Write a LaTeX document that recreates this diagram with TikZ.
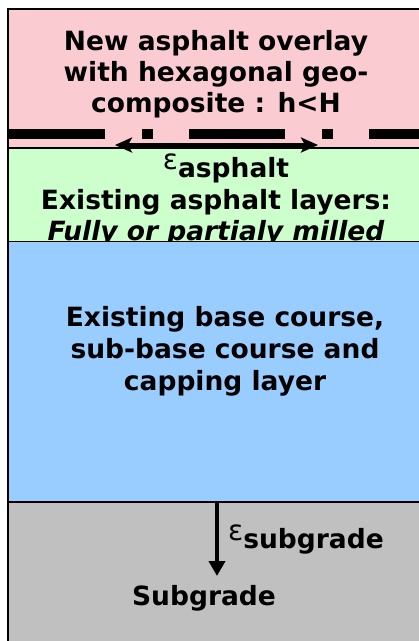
\documentclass[tikz,border=0pt]{standalone}
\usepackage{fontspec}
\setmainfont{DejaVu Sans}
\newfontfamily\epsfont{DejaVu Sans}
\usetikzlibrary{arrows.meta}
\definecolor{pinkL}{RGB}{250,204,210}
\definecolor{greenL}{RGB}{204,255,204}
\definecolor{blueL}{RGB}{153,204,255}
\definecolor{greyL}{RGB}{192,192,192}
\newcommand\myeps{{\epsfont\mdseries\fontsize{28}{28}\selectfont\raisebox{8pt}{ε}}}
\begin{document}
\begin{tikzpicture}[x=1pt,y=-1pt,
  txt/.style={anchor=base, inner sep=0pt, font=\fontsize{26.5}{31}\selectfont\bfseries},
  layer/.style={draw=black, line width=1.2pt},
  htip/.tip={Stealth[length=17pt,width=15pt,inset=4pt]}]
\useasboundingbox (0,0) rectangle (419,641);
\fill[white] (0,0) rectangle (419,641);
\begin{scope}
\clip (0,0) rectangle (419,641);
\draw[layer, fill=pinkL] (8,9) rectangle (440,148);
\draw[layer, fill=greenL] (8,148) rectangle (440,241.5);
\node[txt] (g1) at (226,177) {\myeps asphalt};
\node[txt] (g2) at (216,209) {Existing asphalt layers:};
\node[txt] (g3) at (216,240) {\itshape Fully or partialy milled};
\draw[layer, fill=blueL] (8,241.5) rectangle (440,502);
\draw[layer, fill=greyL] (8,502) rectangle (440,660);
\end{scope}
\draw[line width=2pt] (8,9) -- (8,641);
% title
\node[txt] (t1) at (216,50) {New asphalt overlay};
\node[txt] (t2) at (216,81) {with hexagonal geo-};
\node[txt] (t3) at (216,112) {composite : h<H};
% geocomposite
\draw[line width=10pt, dash pattern=on 96pt off 37pt on 11pt off 36pt] (9,134) -- (425,134);
\coordinate (aL) at (115,145);
\coordinate (aR) at (318,145);
\draw[line width=4pt, htip-htip] (aL) -- (aR);
% base
\node[txt] (b1) at (225,326) {Existing base course,};
\node[txt] (b2) at (225,358) {sub-base course and};
\node[txt] (b3) at (225,390) {capping layer};
% subgrade
\coordinate (sT) at (217,502);
\coordinate (sB) at (217,576);
\draw[line width=4.5pt, -{Triangle[length=15pt,width=16pt]}] (sT) -- (sB);
\node[txt, anchor=base west] (s1) at (228,548) {\myeps subgrade};
\node[txt] (s2) at (204,605) {Subgrade};
\end{tikzpicture}
\end{document}
